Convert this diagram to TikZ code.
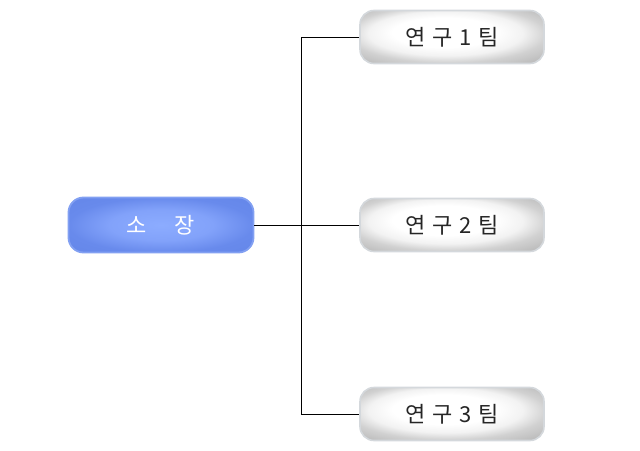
\documentclass[tikz,border=0pt]{standalone}
\usepackage{fontspec}
\newfontfamily\kr{Noto Sans CJK KR}
\pgfdeclareradialshading{teamshade}{\pgfpoint{-3bp}{6bp}}{color(0bp)=(white); color(14bp)=(white); color(21bp)=(black!5); color(27bp)=(black!18); color(34bp)=(black!26); color(50bp)=(black!30)}
\pgfdeclareradialshading{bossshade}{\pgfpoint{0bp}{0bp}}{color(0bp)=(rgb,255:red,140;green,172;blue,255); color(14bp)=(rgb,255:red,130;green,162;blue,250); color(25bp)=(rgb,255:red,104;green,138;blue,236); color(50bp)=(rgb,255:red,95;green,130;blue,228)}
\definecolor{teamborder}{RGB}{212,216,220}
\definecolor{bossborder}{RGB}{130,160,242}
\begin{document}
\begin{tikzpicture}[x=1pt,y=-1pt,
  team/.style={draw=teamborder,line width=1.6pt,rounded corners=14pt,minimum width=184pt,minimum height=53pt,
    shading=teamshade,font=\kr\fontsize{22}{26}\selectfont,text=black!85},
  boss/.style={draw=bossborder,line width=1.8pt,rounded corners=15pt,minimum width=185pt,minimum height=55pt,
    shading=bossshade,font=\kr\fontsize{22}{26}\selectfont,text=white},
  conn/.style={draw=black,line width=0.8pt}]
\useasboundingbox (0,0) rectangle (640,450);
\node[boss] (root) at (161,225) {소\hspace{28pt}장};
\node[team] (t1) at (452,37) {연\hspace{7pt}구\hspace{7pt}1\hspace{7pt}팀};
\node[team] (t2) at (452,225) {연\hspace{7pt}구\hspace{7pt}2\hspace{7pt}팀};
\node[team] (t3) at (452,414) {연\hspace{7pt}구\hspace{7pt}3\hspace{7pt}팀};
\coordinate (top) at (301,37);
\coordinate (bot) at (301,414);
\draw[conn] (root.east) -- (t2.west);
\draw[conn] (t1.west) -- (top) -- (bot) -- (t3.west);
\end{tikzpicture}
\end{document}
